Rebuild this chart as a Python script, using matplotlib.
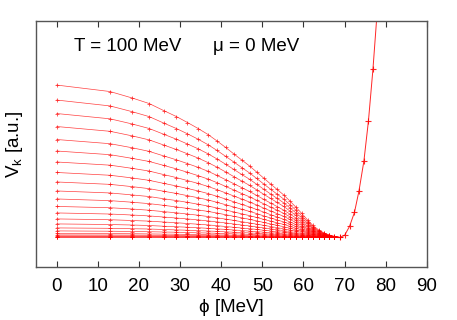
import matplotlib
matplotlib.use("Agg")
import matplotlib.pyplot as plt

plt.rcParams['font.family'] = ['Liberation Sans', 'DejaVu Sans']
plt.rcParams['mathtext.fontset'] = 'custom'
plt.rcParams['mathtext.rm'] = 'Liberation Sans'

# phi grid (MeV)
phi = [0, 13, 18.4, 22.5, 26, 29.1, 31.8, 34.4, 36.8, 39, 41.1, 43.1, 45,
       46.9, 48.6, 50.3, 52, 53.6, 55.2, 56.7, 58.1, 59.6, 61, 62.3, 63.7,
       65, 66.3, 67.5, 68.8]
# shared right branch, phi beyond the minimum
phi_right = [68.8, 70, 71.2, 72.4, 73.5, 74.7, 75.8, 76.9, 78]
v_right = [0, 2, 11, 25, 46.5, 76.5, 116.5, 168.5, 230]

# V_k for each k (arbitrary units), left of the minimum
curves = [
    [152.5, 146, 139.5, 134, 127, 121, 115, 109, 103, 96.5, 90, 83.5, 77.5, 71.5, 65.5, 59.5, 53.5, 48, 42.5, 36.5, 30.5, 24, 17.5, 12, 7.5, 4.5, 2.5, 1, 0],
    [137.5, 131.6, 125.8, 120.9, 114.5, 109.0, 103.7, 98.3, 92.8, 87.0, 81.1, 75.4, 69.9, 64.5, 59.1, 53.6, 48.3, 43.3, 38.4, 32.9, 27.5, 21.6, 15.8, 10.9, 6.7, 4.1, 2.2, 1.0, 0],
    [124, 118.7, 113.5, 109.0, 103.3, 98.3, 93.5, 88.7, 83.7, 78.5, 73.2, 68.0, 63.0, 58.2, 53.3, 48.4, 43.5, 39.1, 34.6, 29.6, 24.8, 19.5, 14.3, 9.8, 6.1, 3.7, 2.0, 0.9, 0],
    [111, 106.2, 101.6, 97.6, 92.5, 88.0, 83.7, 79.4, 74.9, 70.3, 65.5, 60.8, 56.4, 52.1, 47.7, 43.3, 39.0, 35.0, 31.0, 26.5, 22.2, 17.4, 12.8, 8.8, 5.4, 3.3, 1.8, 0.8, 0],
    [98, 93.8, 89.7, 86.1, 81.6, 77.7, 73.9, 70.1, 66.2, 62.0, 57.8, 53.7, 49.8, 46.0, 42.1, 38.2, 34.4, 30.9, 27.3, 23.4, 19.6, 15.4, 11.3, 7.7, 4.8, 2.9, 1.6, 0.7, 0],
    [86.5, 82.8, 79.1, 76.0, 72.1, 68.6, 65.2, 61.8, 58.4, 54.8, 51.0, 47.4, 43.9, 40.6, 37.2, 33.7, 30.4, 27.2, 24.1, 20.7, 17.3, 13.6, 9.9, 6.8, 4.2, 2.6, 1.4, 0.6, 0],
    [75.5, 72.3, 69.1, 66.4, 62.9, 59.9, 56.9, 54.0, 51.0, 47.8, 44.5, 41.4, 38.4, 35.4, 32.5, 29.4, 26.5, 23.8, 21.1, 18.0, 15.1, 11.9, 8.7, 6.0, 3.7, 2.3, 1.2, 0.5, 0],
    [65, 62.2, 59.5, 57.1, 54.1, 51.5, 49.0, 46.5, 43.9, 41.1, 38.4, 35.6, 33.0, 30.5, 28.0, 25.4, 22.8, 20.5, 18.1, 15.5, 13.0, 10.2, 7.5, 5.1, 3.2, 2.0, 1.0, 0.5, 0],
    [55.5, 53.1, 50.8, 48.8, 46.2, 44.0, 41.8, 39.7, 37.5, 35.1, 32.7, 30.4, 28.2, 26.0, 23.9, 21.6, 19.5, 17.5, 15.5, 13.3, 11.1, 8.7, 6.4, 4.4, 2.7, 1.7, 0.9, 0.4, 0],
    [46.5, 44.5, 42.5, 40.9, 38.7, 36.9, 35.1, 33.2, 31.4, 29.4, 27.4, 25.5, 23.6, 21.8, 20.0, 18.1, 16.3, 14.6, 13.0, 11.1, 9.3, 7.3, 5.3, 3.7, 2.3, 1.4, 0.7, 0.3, 0],
    [38.5, 36.8, 35.2, 33.8, 32.1, 30.5, 29.0, 27.5, 26.0, 24.4, 22.7, 21.1, 19.6, 18.1, 16.6, 15.0, 13.5, 12.1, 10.7, 9.2, 7.7, 6.0, 4.4, 3.0, 1.9, 1.2, 0.6, 0.3, 0],
    [31, 29.7, 28.4, 27.2, 25.8, 24.6, 23.4, 22.2, 20.9, 19.6, 18.3, 17.0, 15.7, 14.5, 13.3, 12.1, 10.9, 9.8, 8.6, 7.4, 6.2, 4.9, 3.6, 2.4, 1.5, 0.9, 0.5, 0.2, 0],
    [24.5, 23.4, 22.4, 21.5, 20.4, 19.4, 18.5, 17.5, 16.5, 15.5, 14.5, 13.4, 12.4, 11.5, 10.5, 9.6, 8.6, 7.7, 6.8, 5.9, 4.9, 3.8, 2.8, 1.9, 1.2, 0.7, 0.4, 0.2, 0],
    [18.5, 17.7, 16.9, 16.3, 15.4, 14.7, 13.9, 13.2, 12.5, 11.7, 10.9, 10.1, 9.4, 8.7, 8.0, 7.2, 6.5, 5.8, 5.2, 4.4, 3.7, 2.9, 2.1, 1.5, 0.9, 0.6, 0.3, 0.1, 0],
    [13.5, 12.9, 12.4, 11.9, 11.2, 10.7, 10.2, 9.7, 9.1, 8.5, 8.0, 7.4, 6.9, 6.3, 5.8, 5.3, 4.7, 4.3, 3.8, 3.2, 2.7, 2.1, 1.6, 1.1, 0.7, 0.4, 0.2, 0.1, 0],
    [9.5, 9.1, 8.7, 8.4, 7.9, 7.5, 7.2, 6.8, 6.4, 6.0, 5.6, 5.2, 4.8, 4.5, 4.1, 3.7, 3.3, 3.0, 2.7, 2.3, 1.9, 1.5, 1.1, 0.8, 0.5, 0.3, 0.2, 0.1, 0],
    [6.5, 6.2, 5.9, 5.7, 5.4, 5.2, 4.9, 4.6, 4.4, 4.1, 3.8, 3.6, 3.3, 3.0, 2.8, 2.5, 2.3, 2.0, 1.8, 1.6, 1.3, 1.0, 0.7, 0.5, 0.3, 0.2, 0.1, 0.0, 0],
    [4.0, 3.8, 3.7, 3.5, 3.3, 3.2, 3.0, 2.9, 2.7, 2.5, 2.4, 2.2, 2.0, 1.9, 1.7, 1.6, 1.4, 1.3, 1.1, 1.0, 0.8, 0.6, 0.5, 0.3, 0.2, 0.1, 0.1, 0.0, 0],
    [2.5, 2.4, 2.3, 2.2, 2.1, 2.0, 1.9, 1.8, 1.7, 1.6, 1.5, 1.4, 1.3, 1.2, 1.1, 1.0, 0.9, 0.8, 0.7, 0.6, 0.5, 0.4, 0.3, 0.2, 0.1, 0.1, 0.0, 0.0, 0],
    [1.5, 1.4, 1.4, 1.3, 1.2, 1.2, 1.1, 1.1, 1.0, 0.9, 0.9, 0.8, 0.8, 0.7, 0.6, 0.6, 0.5, 0.5, 0.4, 0.4, 0.3, 0.2, 0.2, 0.1, 0.1, 0.0, 0.0, 0.0, 0],
    [0.8, 0.8, 0.7, 0.7, 0.7, 0.6, 0.6, 0.6, 0.5, 0.5, 0.5, 0.4, 0.4, 0.4, 0.3, 0.3, 0.3, 0.3, 0.2, 0.2, 0.2, 0.1, 0.1, 0.1, 0.0, 0.0, 0.0, 0.0, 0],
    [0.3, 0.3, 0.3, 0.3, 0.2, 0.2, 0.2, 0.2, 0.2, 0.2, 0.2, 0.2, 0.2, 0.1, 0.1, 0.1, 0.1, 0.1, 0.1, 0.1, 0.1, 0.0, 0.0, 0.0, 0.0, 0.0, 0.0, 0.0, 0],
    [0] * 29,
]

fig = plt.figure(figsize=(4.57, 3.2), dpi=100)
ax = fig.add_axes([0.079, 0.166, 0.855, 0.768])

for v in curves:
    ax.plot(phi, v, color='red', lw=0.5, alpha=0.75,
            marker='+', ms=3.5, mew=0.6)
# right branch is common to all k, draw it once
ax.plot(phi_right, v_right, color='red', lw=0.7, alpha=0.85,
        marker='+', ms=5, mew=0.8)

ax.set_xlim(-5, 90)
ax.set_ylim(-29.5, 216.5)
ax.set_xticks(range(0, 91, 10))
ax.set_yticks([])
ax.tick_params(axis='x', direction='in', top=True, length=4, width=0.8,
               color='#333333', labelsize=13.5, pad=8)
for s in ax.spines.values():
    s.set_color('#555555')
    s.set_linewidth(1.0)

ax.set_xlabel('ϕ [MeV]', fontsize=13.5, labelpad=3)
ax.set_ylabel('V$_{\\mathrm{k}}$ [a.u.]', fontsize=13.5, labelpad=8)

ax.text(4.2, 191, 'T = 100 MeV', fontsize=13.5, va='center')
ax.text(38, 191, 'μ = 0 MeV', fontsize=13.5, va='center')

fig.savefig('out.png', dpi=100)
